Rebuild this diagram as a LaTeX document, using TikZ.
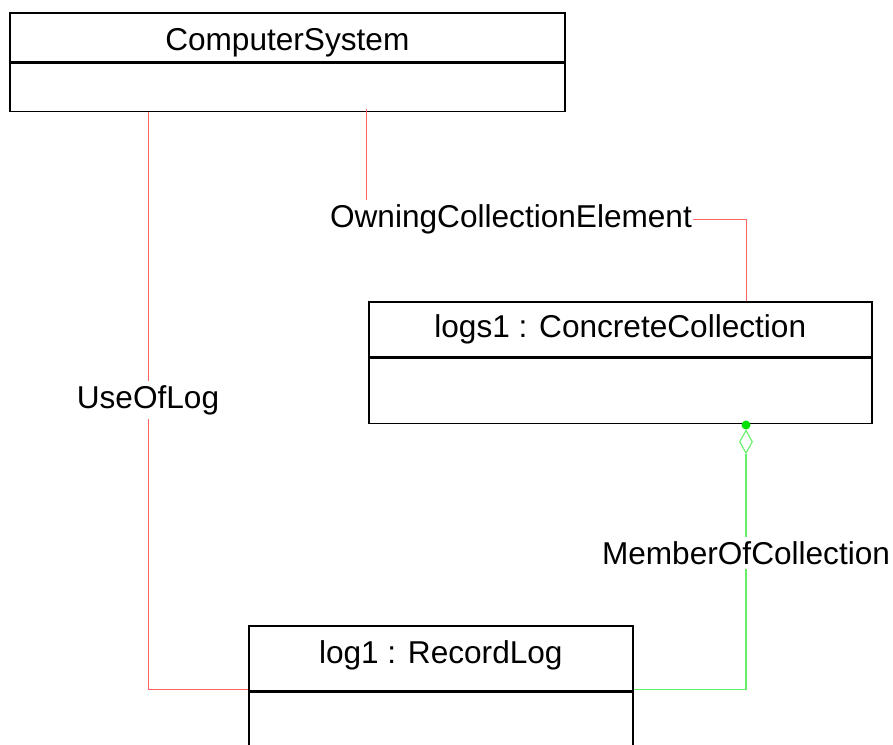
\documentclass[tikz,border=0pt]{standalone}
\usepackage{fontspec}
\setmainfont{Liberation Sans}
\usetikzlibrary{shapes.geometric, positioning}
\definecolor{assocred}{RGB}{255,100,100}
\definecolor{membergreen}{RGB}{100,240,100}
\definecolor{dotgreen}{RGB}{0,225,0}
\tikzstyle{classname} = [rectangle, draw=black, line width=1.6pt, inner sep=0pt, text centered, font=\fontsize{31.6}{38}\selectfont]
\tikzstyle{classbody} = [rectangle, draw=black, line width=1.6pt, inner sep=0pt]
\tikzstyle{rolelabel} = [inner xsep=1pt, inner ysep=4.5pt, font=\fontsize{31.6}{38}\selectfont]
\tikzstyle{assoc} = [draw=assocred, line width=1pt]
\tikzstyle{member} = [draw=membergreen, line width=1.1pt]

\begin{document}
\begin{tikzpicture}[x=1pt, y=-1pt]
  \useasboundingbox (0,0) rectangle (893,744);
  \clip (0,0) rectangle (893,744);

  % Classes
  \node (csname) [classname, anchor=north west, minimum width=555pt, minimum height=49pt, text height=32pt] at (9,12) {ComputerSystem};
  \node (csbody) [classbody, below=0pt of csname, minimum width=555pt, minimum height=48pt] {};

  \node (logsname) [classname, anchor=north west, minimum width=503pt, minimum height=55pt] at (368,301) {logs1 : ConcreteCollection};
  \node (logsbody) [classbody, below=0pt of logsname, minimum width=503pt, minimum height=65pt] {};

  \node (logname) [classname, anchor=north west, minimum width=384pt, minimum height=65pt, text depth=12pt] at (248,625) {log1 : RecordLog};
  \node (logbody) [classbody, below=0pt of logname, minimum width=384pt, minimum height=80pt] {};

  % Aggregation end
  \node (memberdot) [circle, fill=dotgreen, inner sep=0pt, minimum size=9pt] at (746,425) {};
  \node (memberdiamond) [diamond, draw=membergreen, line width=1.1pt, inner sep=0pt, minimum width=13pt, minimum height=23pt, below=0pt of memberdot] {};

  % Association labels
  \node (useoflog) [rolelabel] at (148,400) {UseOfLog};
  \node (owning) [rolelabel] at (511,219) {OwningCollectionElement};
  \node (memberof) [rolelabel] at (746,553) {MemberOfCollection};

  \coordinate (csown) at (366,109);

  % UseOfLog
  \draw [assoc] (useoflog) -- (useoflog |- csbody.south);
  \draw [assoc] (useoflog) |- ([yshift=2.5pt]logbody.north west);

  % OwningCollectionElement
  \draw [assoc] (csown) -- (csown |- owning.north);
  \draw [assoc] (owning.east) -| (memberdot |- logsname.north);

  % MemberOfCollection
  \draw [member] (memberdiamond) -- (memberof);
  \draw [member] (memberof) |- ([yshift=2.5pt]logname.south east);

\end{tikzpicture}
\end{document}
